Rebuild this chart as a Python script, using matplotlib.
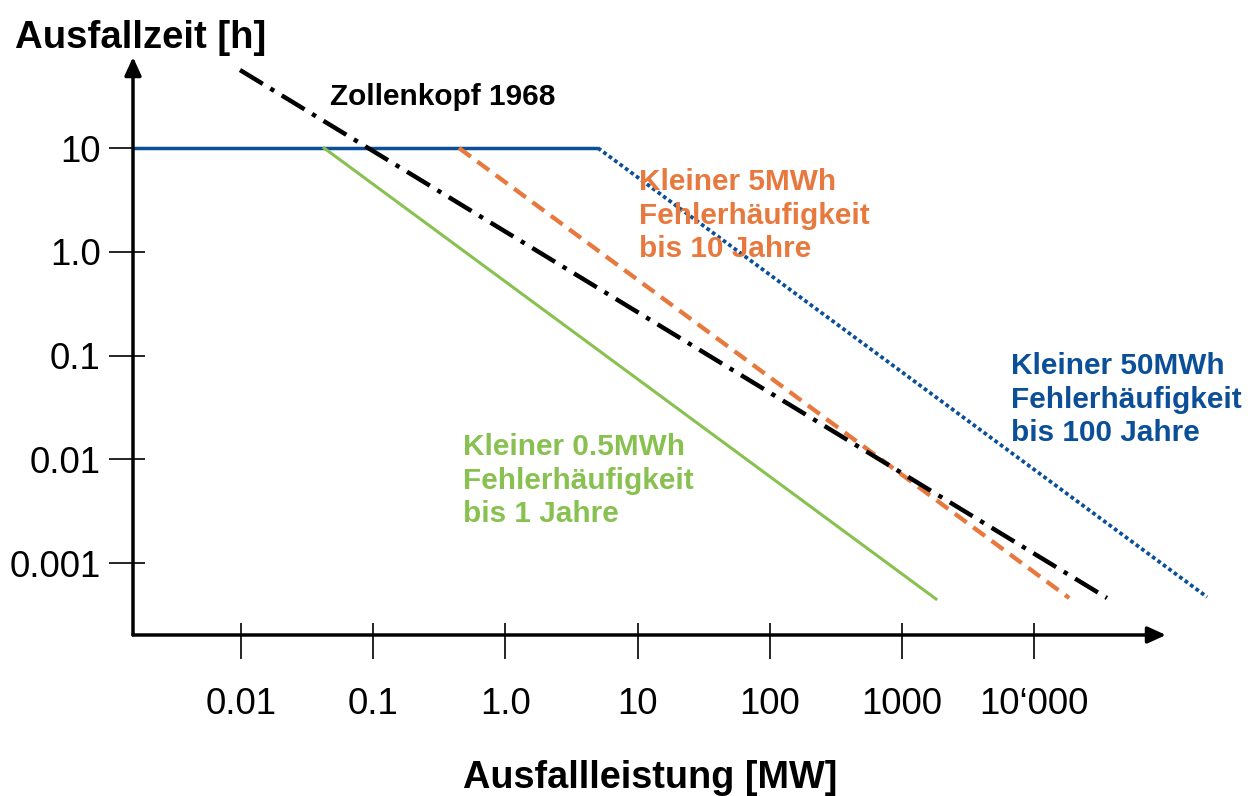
import matplotlib
matplotlib.use("Agg")
import matplotlib.pyplot as plt
from matplotlib.ticker import FixedLocator, NullFormatter

plt.rcParams['font.family'] = ['Liberation Sans', 'DejaVu Sans']

# ---- data ----
x_ticks = [0.01, 0.1, 1.0, 10, 100, 1000, 10000]
x_tick_labels = ["0.01", "0.1", "1.0", "10", "100", "1000", "10\u2018000"]
y_ticks = [10, 1.0, 0.1, 0.01, 0.001]
y_tick_labels = ["10", "1.0", "0.1", "0.01", "0.001"]

# 50 MWh limit (blue): flat part then dotted part
blue_flat_x = [0.001524, 5.02]
blue_flat_y = [10, 10]
blue_dot_x = [5.02, 203700]
blue_dot_y = [10, 4.7e-4]

# 5 MWh limit (orange dashed)
orange_x = [0.446, 18400]
orange_y = [10, 4.6e-4]

# 0.5 MWh limit (green)
green_x = [0.0425, 1811]
green_y = [10, 4.5e-4]

# Zollenkopf 1968 (black dash-dot)
black_x = [0.00983, 35600]
black_y = [56.5, 4.6e-4]

BLUE = '#0A4F97'
ORANGE = '#E8793E'
GREEN = '#88C150'

W, H = 1250, 796
fig = plt.figure(figsize=(W / 100, H / 100), dpi=100)

# axes geometry (pixels)
ax_left, ax_right, ax_bottom, ax_top = 133, 1240, 635, 50
ax = fig.add_axes([ax_left / W, 1 - ax_bottom / H,
                   (ax_right - ax_left) / W, (ax_bottom - ax_top) / H])
ax.set_xscale('log')
ax.set_yscale('log')
xmin, xmax = 10 ** -2.817, 10 ** 5.558
ymin, ymax = 10 ** -3.694, 10 ** 1.945
ax.set_xlim(xmin, xmax)
ax.set_ylim(ymin, ymax)
for s in ax.spines.values():
    s.set_visible(False)

# lines
ax.plot(blue_flat_x, blue_flat_y, color=BLUE, lw=2.5, solid_capstyle='butt', clip_on=False)
ax.plot(blue_dot_x, blue_dot_y, color=BLUE, lw=2.7, linestyle=(0, (1.0, 0.8)),
        dash_capstyle='butt', clip_on=False)
ax.plot(orange_x, orange_y, color=ORANGE, lw=3.1, linestyle=(0, (3.4, 1.9)),
        dash_capstyle='butt', clip_on=False)
ax.plot(green_x, green_y, color=GREEN, lw=2.2, clip_on=False)
ax.plot(black_x, black_y, color='black', lw=3.2, linestyle=(0, (6.0, 2.0, 1.0, 2.0)),
        dash_capstyle='butt', clip_on=False)

# axes with arrows
x_tip = 10 ** 4.998
y_tip = 10 ** 1.877
arrow_style = '-|>,head_length=0.55,head_width=0.25'
ax.annotate('', xy=(x_tip, ymin), xytext=(xmin, ymin),
            arrowprops=dict(arrowstyle=arrow_style, lw=2.5, color='black',
                            shrinkA=0, shrinkB=0, mutation_scale=20),
            annotation_clip=False)
ax.annotate('', xy=(xmin, y_tip), xytext=(xmin, ymin),
            arrowprops=dict(arrowstyle=arrow_style, lw=2.5, color='black',
                            shrinkA=0, shrinkB=0, mutation_scale=20),
            annotation_clip=False)

# ticks: out part (major) and in part (minor at same locations)
ax.xaxis.remove_overlapping_locs = False
ax.yaxis.remove_overlapping_locs = False
ax.xaxis.set_major_locator(FixedLocator(x_ticks))
ax.set_xticklabels(x_tick_labels)
ax.yaxis.set_major_locator(FixedLocator(y_ticks))
ax.set_yticklabels(y_tick_labels)
ax.xaxis.set_minor_locator(FixedLocator(x_ticks))
ax.yaxis.set_minor_locator(FixedLocator(y_ticks))
ax.xaxis.set_minor_formatter(NullFormatter())
ax.yaxis.set_minor_formatter(NullFormatter())
ax.tick_params(which='major', direction='out', length=17.3, width=1.2, color='black',
               labelsize=26.3)
ax.tick_params(which='minor', direction='in', length=8.6, width=1.2, color='black')
ax.tick_params(axis='x', which='major', pad=20)
ax.tick_params(axis='y', which='major', pad=6)

# annotations
txt_kw = dict(fontsize=21.4, fontweight='bold', ha='left', va='top', linespacing=1.25)
ax.text(0.0471, 42.4, "Zollenkopf 1968", color='black', **txt_kw)
ax.text(10.26, 6.41, "Kleiner 5MWh\nFehlerhäufigkeit\nbis 10 Jahre", color=ORANGE, **txt_kw)
ax.text(6700, 0.108, "Kleiner 50MWh\nFehlerhäufigkeit\nbis 100 Jahre", color=BLUE, **txt_kw)
ax.text(0.479, 0.0179, "Kleiner 0.5MWh\nFehlerhäufigkeit\nbis 1 Jahre", color=GREEN, **txt_kw)

# axis titles
fig.text(15 / W, 1 - 20.5 / H, "Ausfallzeit [h]", fontsize=27.6, fontweight='bold',
         ha='left', va='top')
fig.text(463 / W, 1 - 760 / H, "Ausfallleistung [MW]", fontsize=27.3, fontweight='bold',
         ha='left', va='top')

fig.savefig('out.png', dpi=100)
